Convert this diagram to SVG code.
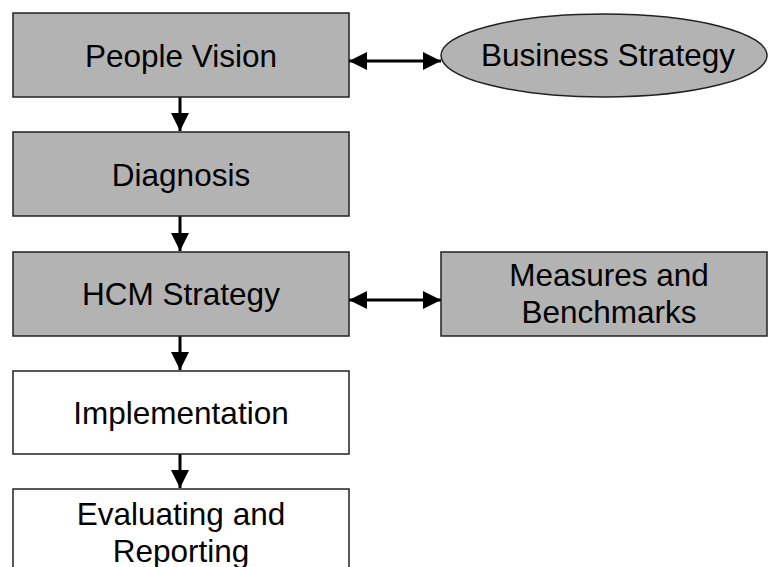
<svg xmlns="http://www.w3.org/2000/svg" width="768" height="567" viewBox="0 0 768 567">
  <style>
    .box { fill: #b3b3b3; stroke: #222; stroke-width: 1.5; }
    .plain { fill: #ffffff; stroke: #222; stroke-width: 1.5; }
    .lbl { font-family: "Liberation Sans", Arial, sans-serif; font-size: 31.5px; fill: #000; text-anchor: middle; }
    .conn { stroke: #000; stroke-width: 3; fill: none; }
  </style>
  <defs>
    <marker id="head" viewBox="0 0 10 10" refX="10" refY="5" markerWidth="6.2" markerHeight="6" markerUnits="strokeWidth" orient="auto-start-reverse">
      <path d="M0,0 L10,5 L0,10 Z" fill="#000"/>
    </marker>
  </defs>
  <rect width="768" height="567" fill="#ffffff"/>

  <g id="connectors">
    <line class="conn" x1="180" y1="97" x2="180" y2="131" marker-end="url(#head)"/>
    <line class="conn" x1="180" y1="216" x2="180" y2="251" marker-end="url(#head)"/>
    <line class="conn" x1="180" y1="336" x2="180" y2="370" marker-end="url(#head)"/>
    <line class="conn" x1="180" y1="454" x2="180" y2="488" marker-end="url(#head)"/>
    <line class="conn" x1="349" y1="61" x2="441" y2="61" marker-start="url(#head)" marker-end="url(#head)"/>
    <line class="conn" x1="349" y1="300" x2="441" y2="300" marker-start="url(#head)" marker-end="url(#head)"/>
  </g>

  <g id="people-vision">
    <rect class="box" x="13" y="13" width="336" height="84"/>
    <text class="lbl" x="181" y="67">People Vision</text>
  </g>
  <g id="business-strategy">
    <ellipse class="box" cx="604" cy="55.5" rx="163" ry="41.5"/>
    <text class="lbl" x="608" y="66">Business Strategy</text>
  </g>
  <g id="diagnosis">
    <rect class="box" x="13" y="132" width="336" height="84"/>
    <text class="lbl" x="181" y="186">Diagnosis</text>
  </g>
  <g id="hcm-strategy">
    <rect class="box" x="13" y="252" width="336" height="84"/>
    <text class="lbl" x="181" y="305">HCM Strategy</text>
  </g>
  <g id="measures-benchmarks">
    <rect class="box" x="441" y="252" width="326" height="84"/>
    <text class="lbl" x="609" y="286">Measures and</text>
    <text class="lbl" x="609" y="323">Benchmarks</text>
  </g>
  <g id="implementation">
    <rect class="plain" x="13" y="371" width="336" height="83"/>
    <text class="lbl" x="181" y="424">Implementation</text>
  </g>
  <g id="evaluating-reporting">
    <rect class="plain" x="13" y="489" width="336" height="84"/>
    <text class="lbl" x="181" y="525">Evaluating and</text>
    <text class="lbl" x="181" y="562">Reporting</text>
  </g>
</svg>
